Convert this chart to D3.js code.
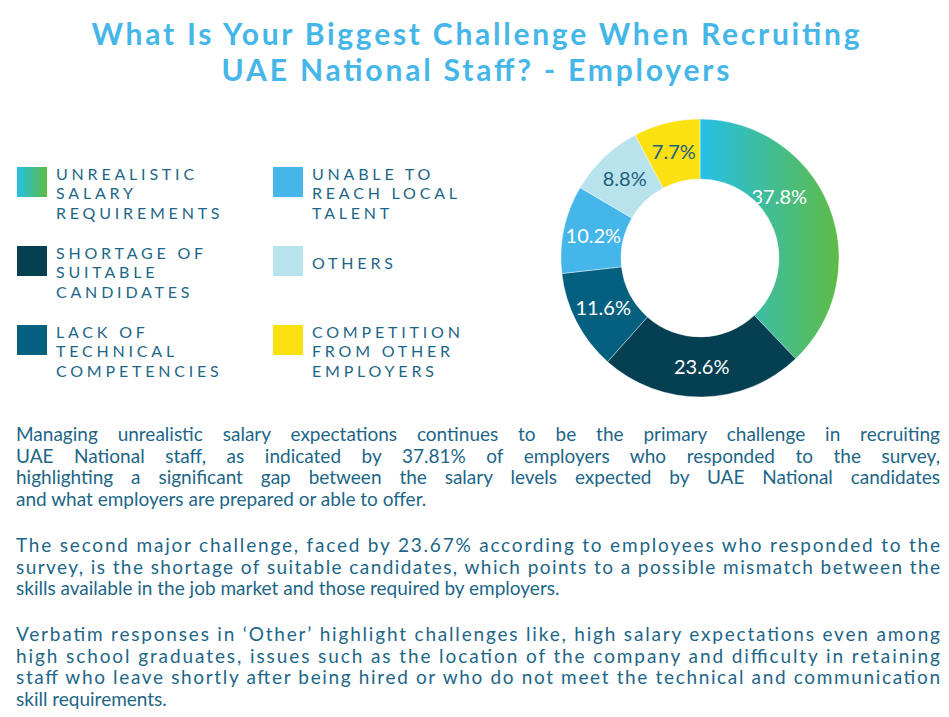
<!DOCTYPE html>
<html>
<head>
<meta charset="utf-8">
<script src="https://cdn.jsdelivr.net/npm/d3@7"></script>
<style>
  body { margin: 0; background: #fff; }
  svg { display: block; }
</style>
</head>
<body>
<div id="chart"></div>
<script>
// chart data
const categories = [
    'Unrealistic Salary Requirements',
    'Shortage of Suitable Candidates',
    'Lack of Technical Competencies',
    'Unable to Reach Local Talent',
    'Others',
    'Competition From Other Employers'
];
const values = [37.8, 23.6, 11.6, 10.2, 8.8, 7.7];
const legendLines = [
    ['UNREALISTIC', 'SALARY', 'REQUIREMENTS'],
    ['SHORTAGE OF', 'SUITABLE', 'CANDIDATES'],
    ['LACK OF', 'TECHNICAL', 'COMPETENCIES'],
    ['UNABLE TO', 'REACH LOCAL', 'TALENT'],
    ['OTHERS'],
    ['COMPETITION', 'FROM OTHER', 'EMPLOYERS']
];
const titleLines = [
    'What Is Your Biggest Challenge When Recruiting',
    'UAE National Staff? - Employers'
];
const paragraphs = [
    [
        'Managing unrealistic salary expectations continues to be the primary challenge in recruiting',
        'UAE National staff, as indicated by 37.81% of employers who responded to the survey,',
        'highlighting a significant gap between the salary levels expected by UAE National candidates',
        'and what employers are prepared or able to offer.'
    ],
    [
        'The second major challenge, faced by 23.67% according to employees who responded to the',
        'survey, is the shortage of suitable candidates, which points to a possible mismatch between the',
        'skills available in the job market and those required by employers.'
    ],
    [
        'Verbatim responses in \u2018Other\u2019 highlight challenges like, high salary expectations even among',
        'high school graduates, issues such as the location of the company and difficulty in retaining',
        'staff who leave shortly after being hired or who do not meet the technical and communication',
        'skill requirements.'
    ]
];

const colors = ['url(#salaryGrad)', '#053f52', '#05607f', '#45b6e9', '#b9e3ec', '#fbe012'];
const labelColors = ['#fff', '#fff', '#fff', '#fff', '#1b5f7e', '#1b5f7e'];

const width = 949, height = 717;
const textColor = '#1d6687';

const svg = d3.select('#chart')
    .append('svg')
    .attr('width', width)
    .attr('height', height);

const defs = svg.append('defs');
const grad = defs.append('linearGradient')
    .attr('id', 'salaryGrad')
    .attr('x1', '0%').attr('x2', '100%')
    .attr('y1', '0%').attr('y2', '0%');
grad.append('stop').attr('offset', '0%').attr('stop-color', '#25c0e6');
grad.append('stop').attr('offset', '100%').attr('stop-color', '#5ebb45');

// title, stretched to the width of the original heading
const titleWidths = [768, 508];
svg.append('g')
    .selectAll('text')
    .data(titleLines)
    .enter()
    .append('text')
    .attr('x', width / 2 + 1)
    .attr('y', (d, i) => 45 + i * 36)
    .attr('text-anchor', 'middle')
    .attr('textLength', (d, i) => titleWidths[i])
    .attr('lengthAdjust', 'spacing')
    .style('font-family', 'Lato')
    .style('font-weight', 'bold')
    .style('font-size', '30px')
    .style('fill', '#45b6e8')
    .text(d => d);

// legend
const rowY = d3.scalePoint().domain([0, 1, 2]).range([167, 325]);
const colX = d3.scalePoint().domain([0, 1]).range([17, 273]);
const lineGap = 19.5;

const legend = svg.append('g')
    .selectAll('g')
    .data(categories)
    .enter()
    .append('g')
    .attr('transform', (d, i) => `translate(${colX(Math.floor(i / 3))},${rowY(i % 3)})`);

legend.append('rect')
    .attr('width', 30)
    .attr('height', 30)
    .attr('fill', (d, i) => colors[i]);

legend.each(function(d, i) {
    const lines = legendLines[i];
    const first = lines.length === 1 ? 22.5 : 12.5;
    d3.select(this).selectAll('text')
        .data(lines)
        .enter()
        .append('text')
        .attr('x', 39)
        .attr('y', (l, j) => first + j * lineGap)
        .style('font-family', 'Lato')
        .style('font-size', '16px')
        .style('letter-spacing', '3.8px')
        .style('fill', textColor)
        .text(l => l);
});

// donut
const cx = 700, cy = 258, outerR = 139, innerR = 79;
const pie = d3.pie().sort(null).value(d => d);
const arc = d3.arc().innerRadius(innerR).outerRadius(outerR);
const labelArc = d3.arc().innerRadius(109).outerRadius(109);

const donut = svg.append('g')
    .attr('transform', `translate(${cx},${cy})`);

const arcs = pie(values);

donut.selectAll('path')
    .data(arcs)
    .enter()
    .append('path')
    .attr('d', arc)
    .attr('fill', (d, i) => colors[i])
    .attr('stroke', '#fff')
    .attr('stroke-width', 0.4);

donut.selectAll('.label')
    .data(arcs)
    .enter()
    .append('text')
    .attr('class', 'label')
    .attr('transform', (d, i) => {
        const c = labelArc.centroid(d);
        // nudge the big slice label toward its upper part as in the source
        if (i === 0) return `translate(${c[0] - 22},${c[1] - 21})`;
        return `translate(${c[0]},${c[1]})`;
    })
    .attr('dy', '0.36em')
    .attr('text-anchor', 'middle')
    .style('font-family', 'Lato')
    .style('font-size', '20px')
    .style('fill', (d, i) => labelColors[i])
    .text(d => d.data.toFixed(1) + '%');

// paragraphs, justified line by line
const textLeft = 16, textRight = 940;
const paraTop = [441, 552, 641];
const paraLine = 21.7;

paragraphs.forEach((lines, p) => {
    lines.forEach((line, j) => {
        const t = svg.append('text')
            .attr('x', textLeft)
            .attr('y', paraTop[p] + j * paraLine)
            .style('font-family', 'Lato')
            .style('font-size', '19px')
            .style('fill', textColor)
            .text(line);
        if (j < lines.length - 1) {
            const natural = t.node().getComputedTextLength();
            const gaps = (line.match(/ /g) || []).length;
            const extra = (textRight - textLeft) - natural;
            if (p === 0 && extra > 0 && gaps > 0) {
                // first paragraph is justified with wide word gaps
                t.style('word-spacing', `${extra / gaps}px`);
            } else {
                t.attr('textLength', textRight - textLeft)
                    .attr('lengthAdjust', 'spacing');
            }
        }
    });
});
</script>
</body>
</html>
